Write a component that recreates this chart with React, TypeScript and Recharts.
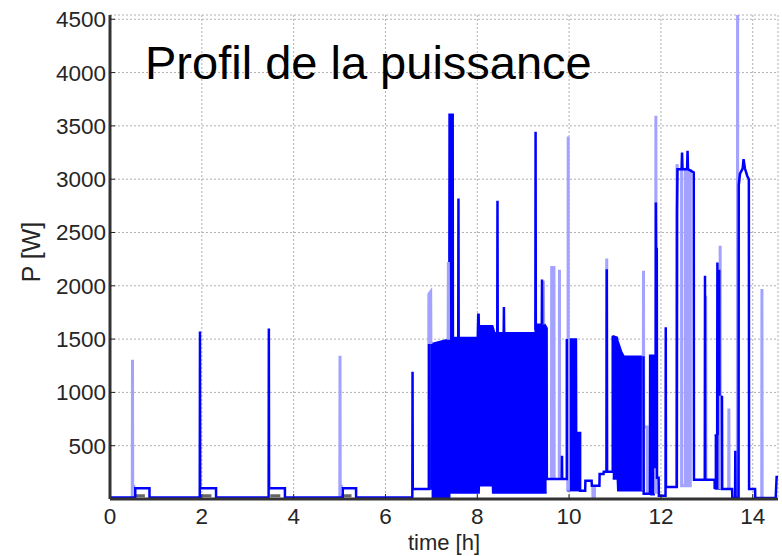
import React from "react";
import { ComposedChart, Line, Area, XAxis, YAxis, CartesianGrid } from "recharts";

const xTicks = [0, 2, 4, 6, 8, 10, 12, 14];
const yTicks = [500, 1000, 1500, 2000, 2500, 3000, 3500, 4000, 4500];

type Pt = [number, number];

// main trace (dark blue), [time h, power W], one list per unbroken piece
const darkSegments: Pt[][] = [
    [[0, 15], [0.55, 15], [0.55, 100], [0.86, 100], [0.86, 15], [1.955, 15], [1.96, 1572], [1.965, 100], [2.31, 100], [2.31, 15],
     [3.455, 15], [3.46, 1600], [3.465, 100], [3.81, 100], [3.81, 15], [5.07, 15], [5.07, 100], [5.36, 100], [5.36, 15],
     [6.585, 15], [6.59, 1194], [6.595, 94], [6.95, 94], [6.95, 1453]],
    [[7.585, 1516], [7.59, 2819], [7.595, 1516]],
    [[8.435, 1560], [8.44, 2797], [8.445, 1560]],
    [[8.575, 1560], [8.58, 1800], [8.585, 1560]],
    [[9.265, 1580], [9.27, 3444], [9.275, 1600]],
    [[9.405, 1640], [9.41, 2060], [9.415, 1640]],
    [[9.51, 1612], [9.515, 187], [9.84, 187], [9.845, 406], [9.85, 187], [9.95, 187], [9.95, 1500]],
    [[10.16, 620], [10.24, 620], [10.24, 78], [10.35, 78], [10.355, 172], [10.49, 172], [10.495, 125], [10.66, 125],
     [10.665, 234], [10.75, 234], [10.755, 256], [10.815, 256], [10.82, 2156], [10.825, 256], [10.95, 256], [10.95, 1531]],
    [[11.62, 1338], [11.625, 50], [11.76, 50], [11.765, 1344], [11.87, 1344], [11.875, 300], [11.885, 300], [11.89, 2781],
     [11.895, 2344], [11.91, 2344], [11.915, 200], [11.95, 200], [11.955, 30], [12.1, 30], [12.105, 1610], [12.11, 112],
     [12.345, 112], [12.35, 2688], [12.36, 3094], [12.45, 3094], [12.46, 3250], [12.47, 3094], [12.57, 3094], [12.58, 3266],
     [12.59, 3094], [12.715, 3063], [12.72, 181], [12.955, 181], [12.96, 2094], [12.965, 181], [13.17, 181], [13.17, 94]],
    [[13.225, 600], [13.23, 2219], [13.235, 600]],
    [[13.265, 969], [13.27, 2150], [13.275, 969]],
    [[13.33, 969], [13.335, 94], [13.55, 94], [13.555, 10], [13.615, 10], [13.62, 453], [13.625, 10], [13.69, 10],
     [13.695, 2950], [13.72, 3050], [13.78, 3100], [13.8, 3187], [13.83, 3100], [13.88, 3030], [13.915, 3000], [13.92, 94],
     [14.05, 94], [14.055, 10], [14.5, 10], [14.52, 206], [14.55, 206]],
];

// second trace (light blue)
const lightSegments: Pt[][] = [
    [[0.485, 15], [0.49, 1306], [0.495, 120], [0.55, 120]],
    [[5.005, 15], [5.01, 1344], [5.015, 120], [5.07, 120]],
    [[6.94, 94], [6.945, 1920], [6.985, 1944], [6.99, 1453]],
    [[7.365, 1494], [7.37, 2222], [7.375, 1494]],
    [[9.435, 1640], [9.44, 2047], [9.445, 1640]],
    [[9.615, 187], [9.62, 2172], [9.67, 2172], [9.675, 187]],
    [[9.785, 187], [9.79, 2150], [9.795, 187]],
    [[9.975, 78], [9.98, 3400], [9.985, 78]],
    [[10.515, 125], [10.52, 0], [10.55, 0], [10.555, 125]],
    [[10.815, 256], [10.82, 2256], [10.825, 256]],
    [[11.615, 78], [11.62, 2141], [11.625, 675], [11.7, 675], [11.705, 50]],
    [[11.885, 50], [11.89, 3594], [11.895, 50]],
    [[12.345, 112], [12.35, 3140], [12.36, 3094]],
    [[12.45, 3094], [12.45, 125], [12.53, 125], [12.53, 3094], [12.58, 3094], [12.58, 125], [12.64, 125], [12.64, 3094]],
    [[12.97, 181], [12.975, 1906], [12.98, 181]],
    [[13.285, 94], [13.29, 2375], [13.295, 94]],
    [[13.475, 94], [13.48, 850], [13.485, 94]],
    [[13.665, 0], [13.67, 4540], [13.675, 0]],
    [[13.685, 0], [13.69, 2937], [13.72, 3050]],
    [[14.195, 0], [14.2, 1969], [14.205, 0]],
];

// short grey marks on the baseline
const greySegments: Pt[][] = [
    [[0.54, 30], [0.76, 30]],
    [[1.99, 30], [2.21, 30]],
    [[3.49, 30], [3.71, 30]],
    [[5.04, 30], [5.26, 30]],
];

// fast switching zones drawn as filled envelopes: [time, low W, high W]
const denseBands: [number, number, number][][] = [
    [[6.95, 94, 1453], [7.02, 94, 1460], [7.021, 0, 1460], [7.33, 0, 1494], [7.38, 0, 1494], [7.385, 0, 3609], [7.4, 0, 3609],
     [7.401, 2125, 3609], [7.425, 2125, 3609], [7.426, 56, 3609], [7.475, 56, 3609], [7.48, 56, 1516], [8.0, 56, 1516],
     [8.01, 56, 1734], [8.04, 56, 1734], [8.045, 125, 1625], [8.33, 125, 1625], [8.335, 56, 1625], [8.38, 56, 1560],
     [9.25, 56, 1560], [9.28, 56, 1590], [9.3, 56, 1640], [9.47, 56, 1640], [9.51, 56, 1612]],
    [[9.95, 78, 1500], [10.16, 78, 1500], [10.165, 78, 620], [10.24, 78, 620]],
    [[10.95, 187, 1531], [11.05, 187, 1516], [11.06, 78, 1490], [11.15, 78, 1375], [11.2, 78, 1338], [11.62, 78, 1338]],
    [[11.765, 40, 1344], [11.87, 40, 1344]],
    [[13.17, 94, 600], [13.25, 94, 600], [13.255, 94, 969], [13.33, 94, 969]],
];

const toLineData = (segs: Pt[][]) => {
    const out: { t: number; p: number | null }[] = [];
    segs.forEach((seg) => {
        seg.forEach(([t, p]) => out.push({ t, p }));
        out.push({ t: seg[seg.length - 1][0], p: null });
    });
    return out;
};

const darkData = toLineData(darkSegments);
const lightData = toLineData(lightSegments);
const greyData = toLineData(greySegments);

const FONT = "'Liberation Sans', Arial, sans-serif";
const tickStyle = { fill: "#262626", fontSize: 22.5, fontFamily: FONT };

const YLabel = (props: any) => {
    const vb = props.viewBox || { x: 0, y: 15, width: 110, height: 484 };
    const cx = vb.x + 40;
    const cy = vb.y + vb.height / 2 - 5;
    return (
        <text x={cx} y={cy} transform={`rotate(-90 ${cx} ${cy})`} textAnchor="middle" fontSize={25} fontFamily={FONT} fill="#262626">
            P [W]
        </text>
    );
};

const XLabel = (props: any) => {
    const vb = props.viewBox || { x: 110, y: 499, width: 668, height: 57 };
    return (
        <text x={vb.x + vb.width / 2} y={vb.y + 51} textAnchor="middle" fontSize={22} fontFamily={FONT} fill="#262626">
            time [h]
        </text>
    );
};

export default function App() {
    return (
        <div style={{ position: "absolute", left: 0, top: 0, width: 782, height: 556, background: "#fff", fontFamily: FONT }}>
            <ComposedChart width={782} height={556} margin={{ top: 15, right: 4, bottom: 0, left: 0 }}>
                <CartesianGrid stroke="#b0b0b0" strokeDasharray="2 2" />
                <XAxis
                    dataKey="t"
                    type="number"
                    domain={[0, 14.55]}
                    ticks={xTicks}
                    interval={0}
                    allowDataOverflow
                    height={57}
                    tick={tickStyle}
                    tickSize={-5}
                    tickMargin={14}
                    tickLine={{ stroke: "#222" }}
                    axisLine={{ stroke: "#333", strokeWidth: 3 }}
                    label={<XLabel />}
                />
                <XAxis
                    xAxisId="top"
                    orientation="top"
                    dataKey="t"
                    type="number"
                    domain={[0, 14.55]}
                    ticks={xTicks}
                    interval={0}
                    height={0}
                    tickSize={-5}
                    tickFormatter={() => ""}
                    tickLine={{ stroke: "#222" }}
                    axisLine={{ stroke: "#333", strokeWidth: 2 }}
                />
                <YAxis
                    type="number"
                    domain={[0, 4540]}
                    ticks={yTicks}
                    interval={0}
                    allowDataOverflow
                    width={110}
                    tick={tickStyle}
                    tickSize={-5}
                    tickMargin={9}
                    tickLine={{ stroke: "#222" }}
                    axisLine={{ stroke: "#333", strokeWidth: 3 }}
                    label={<YLabel />}
                />
                <YAxis
                    yAxisId="right"
                    orientation="right"
                    type="number"
                    domain={[0, 4540]}
                    ticks={yTicks}
                    interval={0}
                    width={0}
                    tickSize={-5}
                    tickFormatter={() => ""}
                    tickLine={{ stroke: "#222" }}
                    axisLine={{ stroke: "#333", strokeWidth: 2 }}
                />
                <Line
                    data={lightData}
                    dataKey="p"
                    type="linear"
                    stroke="#a3a3ff"
                    strokeWidth={3}
                    dot={false}
                    activeDot={false}
                    connectNulls={false}
                    isAnimationActive={false}
                />
                {denseBands.map((band, i) => (
                    <Area
                        key={i}
                        data={band.map(([t, lo, hi]) => ({ t, range: [lo, hi] }))}
                        dataKey="range"
                        type="linear"
                        stroke="#0000ff"
                        strokeWidth={1.5}
                        fill="#0000ff"
                        fillOpacity={1}
                        dot={false}
                        activeDot={false}
                        isAnimationActive={false}
                    />
                ))}
                <Line
                    data={greyData}
                    dataKey="p"
                    type="linear"
                    stroke="#666"
                    strokeWidth={3}
                    dot={false}
                    activeDot={false}
                    connectNulls={false}
                    isAnimationActive={false}
                />
                <Line
                    data={darkData}
                    dataKey="p"
                    type="linear"
                    stroke="#0000ff"
                    strokeWidth={2.5}
                    dot={false}
                    activeDot={false}
                    connectNulls={false}
                    isAnimationActive={false}
                />
            </ComposedChart>
            <div
                style={{
                    position: "absolute",
                    left: 145,
                    top: 39,
                    fontSize: 47,
                    lineHeight: "47px",
                    color: "#000",
                    whiteSpace: "nowrap",
                    pointerEvents: "none",
                }}
            >
                Profil de la puissance
            </div>
        </div>
    );
}
